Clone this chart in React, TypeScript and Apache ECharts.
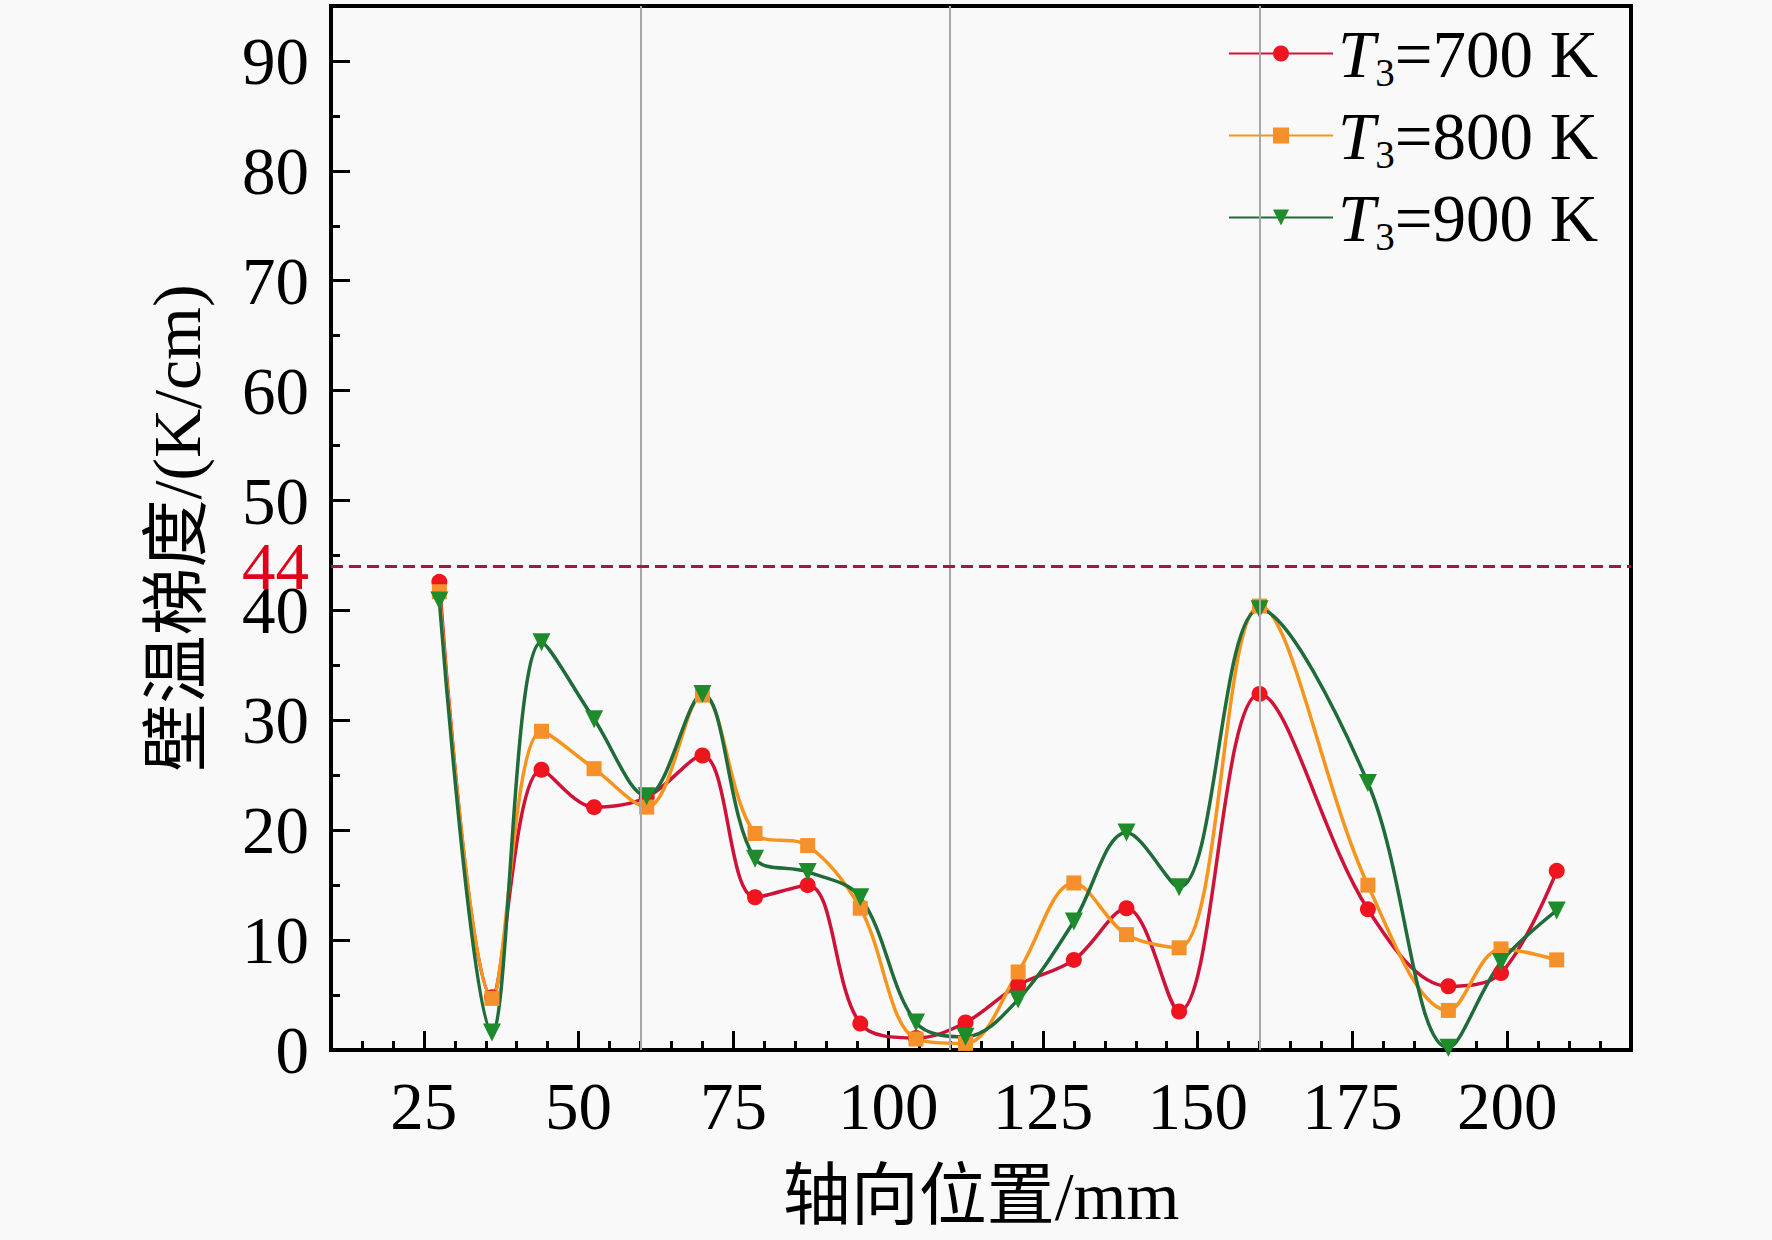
import React, { useEffect, useRef } from "react";
import * as echarts from "echarts";

// ---- data ----
const positions = [27.5, 36, 44, 52.5, 61, 70, 78.5, 87, 95.5, 104.5, 112.5, 121, 130, 138.5, 147, 160, 177.5, 190.5, 199, 208];
const t700 = [42.6, 4.8, 25.5, 22.1, 23.0, 26.8, 13.9, 15.0, 2.4, 1.1, 2.5, 5.9, 8.2, 12.9, 3.5, 32.4, 12.8, 5.8, 7.0, 16.3];
const t800 = [41.7, 4.7, 29.0, 25.6, 22.1, 32.3, 19.7, 18.6, 12.9, 1.0, 0.6, 7.1, 15.2, 10.5, 9.3, 40.4, 15.0, 3.6, 9.2, 8.2];
const t900 = [40.9, 1.6, 37.1, 30.1, 23.1, 32.4, 17.4, 16.2, 13.9, 2.5, 1.2, 4.6, 11.7, 19.8, 14.8, 40.1, 24.3, 0.2, 8.0, 12.7];
const seriesNames = ["T3=700 K", "T3=800 K", "T3=900 K"];
const refLinesX = [60, 110, 160];
const threshold = 44;
const xLabelStep = 25;
const yLabelStep = 10;

// ---- layout ----
const W = 1772;
const H = 1240;
const gridLeft = 331;
const gridRight = 141;
const gridTop = 6;
const gridBottom = 190;
const xMin = 10;
const xMax = 220;
const yMin = 0;
const yMax = 95;
const xMajorStart = 25;
const plotW = W - gridLeft - gridRight;
const pxPerUnit = plotW / (xMax - xMin);
const grid2Left = gridLeft + (xMajorStart - xMin) * pxPerUnit;

const FONT = '"Liberation Serif", "Times New Roman", "Noto Sans CJK SC", serif';
const BG = "#f9f9f9";
const TICK_FS = 67;
const TITLE_FS = 68;

function lineSeries(name: string, vals: number[], lineColor: string, markerColor: string, symbol: string, size: number, rotate: number) {
  return {
    type: "line",
    name,
    data: positions.map((x, i) => [x, vals[i]]),
    xAxisIndex: 0,
    yAxisIndex: 0,
    smooth: 0.35,
    symbol,
    symbolSize: size,
    symbolRotate: rotate,
    showAllSymbol: true,
    lineStyle: { color: lineColor, width: 3.5 },
    itemStyle: { color: markerColor },
    z: 3,
  };
}

export default function App() {
  const ref = useRef<HTMLDivElement>(null);
  useEffect(() => {
    if (!ref.current) return;
    const chart = echarts.init(ref.current, undefined, { renderer: "svg" });
    const tick = { lineStyle: { color: "#000", width: 3 } };
    const gridBox = { right: gridRight, top: gridTop, bottom: gridBottom };
    const option: any = {
      animation: false,
      backgroundColor: BG,
      textStyle: { fontFamily: FONT },
      grid: [
        { left: gridLeft, ...gridBox, show: true, borderColor: "#000", borderWidth: 4, backgroundColor: "transparent" },
        { left: grid2Left, ...gridBox, show: false },
        { left: gridLeft, ...gridBox, show: false },
      ],
      xAxis: [
        {
          type: "value", gridIndex: 0, position: "bottom", min: xMin, max: xMax, interval: 5,
          axisLine: { show: false },
          axisTick: { show: true, inside: true, length: 9, ...tick },
          splitLine: { show: false },
          axisLabel: {
            show: true, margin: 22, color: "#000", fontSize: TICK_FS, fontFamily: FONT,
            formatter: (v: number) => (v % xLabelStep === 0 ? String(v) : ""),
          },
          name: "轴向位置/mm", nameLocation: "middle", nameGap: 112,
          nameTextStyle: { color: "#000", fontSize: TITLE_FS, fontFamily: FONT },
        },
        {
          type: "value", gridIndex: 1, position: "bottom", min: xMajorStart, max: xMax, interval: 25,
          axisLine: { show: false },
          axisTick: { show: true, inside: true, length: 19, ...tick },
          splitLine: { show: false },
          axisLabel: { show: false },
        },
        { type: "value", gridIndex: 2, min: xMin, max: xMax, show: false },
      ],
      yAxis: [
        {
          type: "value", gridIndex: 0, position: "left", min: yMin, max: yMax, interval: 5,
          axisLine: { show: false },
          axisTick: { show: true, inside: true, length: 9, ...tick },
          splitLine: { show: false },
          axisLabel: {
            show: true, margin: 22, color: "#000", fontSize: TICK_FS, fontFamily: FONT,
            formatter: (v: number) => (v % yLabelStep === 0 ? String(v) : ""),
          },
          name: "壁温梯度/(K/cm)", nameLocation: "middle", nameGap: 120,
          nameTextStyle: { color: "#000", fontSize: TITLE_FS, fontFamily: FONT },
        },
        { type: "value", gridIndex: 1, min: yMin, max: yMax, show: false },
        {
          type: "value", gridIndex: 2, position: "left", min: yMin, max: yMax, interval: 10,
          axisLine: { show: false },
          axisTick: { show: true, inside: true, length: 19, ...tick },
          splitLine: { show: false },
          axisLabel: { show: false },
        },
      ],
      legend: {
        data: seriesNames,
        orient: "vertical",
        left: 1222,
        top: 11,
        itemWidth: 104,
        itemHeight: 20,
        itemGap: 5,
        backgroundColor: BG,
        padding: [4, 6, 4, 6],
        formatter: (name: string) => `{i|T}{s|3}{n|${name.slice(2)}}`,
        textStyle: {
          color: "#000",
          fontFamily: FONT,
          rich: {
            i: { fontStyle: "italic", fontSize: 67, lineHeight: 68, fontFamily: FONT, color: "#000" },
            s: { fontSize: 39, lineHeight: 30, padding: [38, 0, 0, 0], fontFamily: FONT, color: "#000" },
            n: { fontSize: 67, lineHeight: 68, fontFamily: FONT, color: "#000" },
          },
        },
      },
      series: [
        {
          type: "line",
          name: "ref",
          data: [],
          xAxisIndex: 0,
          yAxisIndex: 0,
          silent: true,
          z: 1,
          markLine: {
            symbol: "none",
            silent: true,
            animation: false,
            data: [
              ...refLinesX.map((v) => ({ xAxis: v, lineStyle: { color: "#a8a8a8", width: 2, type: "solid" }, label: { show: false } })),
              {
                yAxis: threshold,
                lineStyle: { color: "#9b1b45", width: 3, type: [12, 6] },
                label: {
                  show: true, position: "start", distance: 22, formatter: String(threshold),
                  color: "#e0001a", fontSize: TICK_FS, fontFamily: FONT, padding: [0, 0, 22, 0],
                },
              },
            ],
          },
        },
        lineSeries(seriesNames[0], t700, "#cf1238", "#f0141e", "circle", 16, 0),
        lineSeries(seriesNames[1], t800, "#f7941d", "#f5902a", "rect", 15, 0),
        lineSeries(seriesNames[2], t900, "#1f6b3a", "#1e8c2a", "triangle", 18, 180),
      ],
    };
    chart.setOption(option);
    return () => chart.dispose();
  }, []);
  return <div ref={ref} style={{ position: "fixed", left: 0, top: 0, width: W, height: H }} />;
}
